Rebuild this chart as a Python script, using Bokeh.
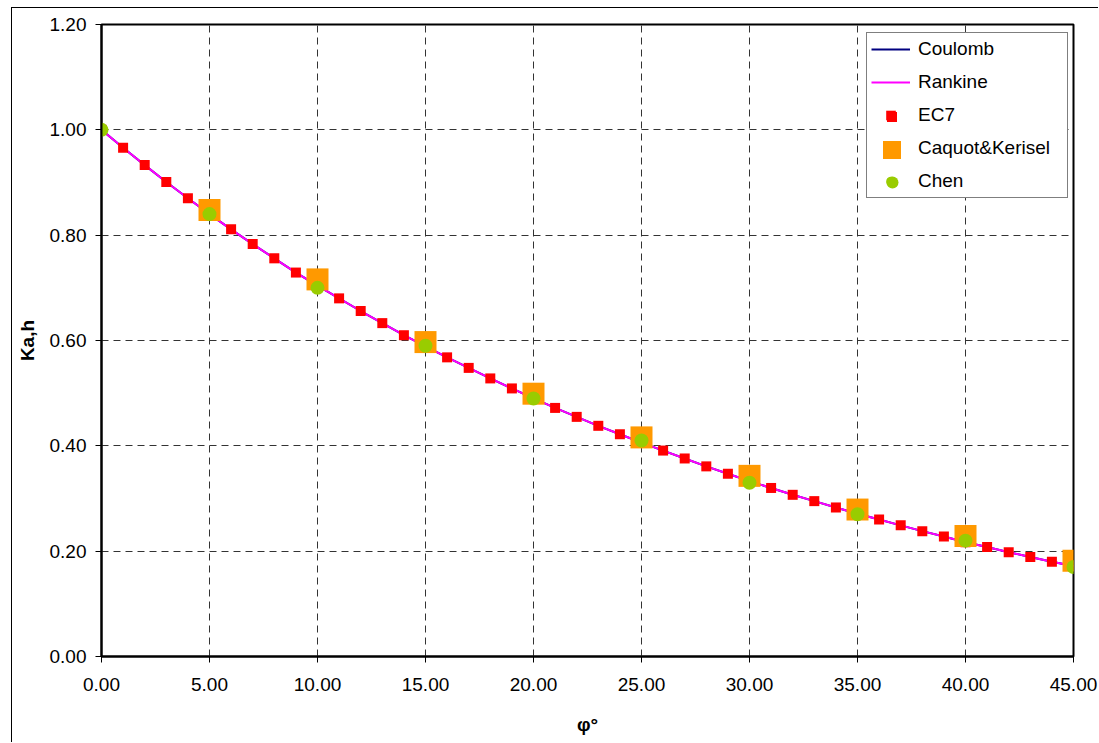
from bokeh.plotting import figure
from bokeh.models import (Range1d, NumeralTickFormatter, FixedTicker, Legend, LegendItem)
from bokeh.embed import file_html
from bokeh.resources import INLINE

# ---- data ----
phi = [0, 1, 2, 3, 4, 5, 6, 7, 8, 9, 10, 11, 12, 13, 14, 15, 16, 17, 18, 19, 20,
       21, 22, 23, 24, 25, 26, 27, 28, 29, 30, 31, 32, 33, 34, 35, 36, 37, 38, 39, 40,
       41, 42, 43, 44, 45]
rankine = [1.000, 0.966, 0.933, 0.901, 0.870, 0.840, 0.811, 0.783, 0.756, 0.729, 0.704,
           0.680, 0.656, 0.633, 0.610, 0.589, 0.568, 0.548, 0.528, 0.509, 0.490,
           0.472, 0.455, 0.438, 0.422, 0.406, 0.391, 0.376, 0.361, 0.347, 0.333,
           0.320, 0.307, 0.295, 0.283, 0.271, 0.260, 0.249, 0.238, 0.228, 0.217,
           0.208, 0.198, 0.189, 0.180, 0.172]
coulomb = list(rankine)
ec7 = list(rankine)
phi5 = [5, 10, 15, 20, 25, 30, 35, 40, 45]
caquot = [0.848, 0.716, 0.597, 0.499, 0.416, 0.343, 0.279, 0.229, 0.182]
phi_chen = [0, 5, 10, 15, 20, 25, 30, 35, 40, 45]
chen = [1.00, 0.84, 0.70, 0.59, 0.49, 0.41, 0.33, 0.27, 0.22, 0.17]

x_ticks = [0, 5, 10, 15, 20, 25, 30, 35, 40, 45]
y_ticks = [0.0, 0.2, 0.4, 0.6, 0.8, 1.0, 1.2]

FONT = "Liberation Sans"

# figure is offset by the outer frame (margin 11/7 + 1px border)
W, H = 1087, 735
p = figure(width=W, height=H, output_backend="svg", toolbar_location=None,
           x_range=Range1d(0, 45), y_range=Range1d(0, 1.2),
           min_border_left=89, min_border_right=26, min_border_top=16, min_border_bottom=87)
p.styles = {"margin-left": "11px", "margin-top": "7px",
            "border-left": "1px solid black", "border-top": "1px solid black"}
p.background_fill_color = "white"
p.border_fill_color = "white"
p.outline_line_color = "black"
p.outline_line_width = 2

for ax in (p.xaxis[0], p.yaxis[0]):
    ax.axis_line_color = "black"
    ax.axis_line_width = 2
    ax.major_tick_line_color = "black"
    ax.major_tick_line_width = 1
    ax.minor_tick_line_color = None
    ax.major_tick_in = 0
    ax.major_tick_out = 6
    ax.major_label_text_font = FONT
    ax.major_label_text_font_size = "19px"
    ax.major_label_text_color = "black"
    ax.axis_label_text_font = FONT
    ax.axis_label_text_font_size = "19px"
    ax.axis_label_text_font_style = "bold"
    ax.axis_label_text_color = "black"
    ax.formatter = NumeralTickFormatter(format="0.00")

p.xaxis[0].ticker = FixedTicker(ticks=x_ticks)
p.yaxis[0].ticker = FixedTicker(ticks=y_ticks)
p.xaxis[0].axis_label = "φ°"
p.yaxis[0].axis_label = "Ka,h"
p.xaxis[0].major_label_standoff = 15
p.xaxis[0].axis_label_standoff = 20
p.yaxis[0].major_label_standoff = 9
p.yaxis[0].axis_label_standoff = 9

for g in (p.xgrid[0], p.ygrid[0]):
    g.grid_line_color = "#333333"
    g.grid_line_dash = "7 5"
    g.grid_line_width = 1
p.xgrid[0].ticker = FixedTicker(ticks=x_ticks)
p.ygrid[0].ticker = FixedTicker(ticks=y_ticks)

r_coul = p.line(phi, coulomb, line_color="#000080", line_width=2)
r_rank = p.line(phi, rankine, line_color="#FF00FF", line_width=2)
r_ec7 = p.scatter(phi, ec7, marker="square", size=10, fill_color="#FF0000", line_color=None)
r_caq = p.scatter(phi5, caquot, marker="square", size=22, fill_color="#FF9900", line_color=None)
r_chen = p.scatter(phi_chen, chen, marker="circle", size=14, fill_color="#99CC00", line_color=None)

# main legend box (frame-relative screen coordinates)
LX, LY = 765, 458
PAD, GW, ROW, SP = 4, 39, 24, 9
legend = Legend(items=[
    LegendItem(label="Coulomb", renderers=[r_coul]),
    LegendItem(label="Rankine", renderers=[r_rank]),
    LegendItem(label="EC7", renderers=[r_ec7]),
    LegendItem(label="Caquot&Kerisel", renderers=[r_caq]),
    LegendItem(label="Chen", renderers=[r_chen]),
], location=(LX, LY))
legend.label_text_font = FONT
legend.label_text_font_size = "19px"
legend.label_text_color = "black"
legend.glyph_width = GW
legend.glyph_height = ROW
legend.label_height = ROW
legend.label_width = 145
legend.label_standoff = 8
legend.spacing = SP
legend.padding = PAD
legend.margin = 0
legend.border_line_color = "black"
legend.border_line_width = 1
legend.background_fill_color = "white"
legend.background_fill_alpha = 1
p.add_layout(legend, "center")

# overlay legends to draw the markers at their larger legend sizes
top_y = LY + 2 * PAD + 5 * ROW + 4 * SP
gcx = LX + PAD + GW / 2 + 2


def overlay(rend, row_index, marker_size):
    g = int(round(marker_size / 0.4))
    cy = top_y - PAD - row_index * (ROW + SP) - ROW / 2
    lg = Legend(items=[LegendItem(label=" ", renderers=[rend])],
                location=(gcx - g / 2, cy - g / 2))
    lg.glyph_width = g
    lg.glyph_height = g
    lg.label_height = g
    lg.label_width = 0
    lg.label_standoff = 0
    lg.label_text_alpha = 0
    lg.label_text_font_size = "1px"
    lg.padding = 0
    lg.margin = 0
    lg.border_line_color = None
    lg.background_fill_alpha = 0
    p.add_layout(lg, "center")


overlay(r_ec7, 2, 10)
overlay(r_caq, 3, 18)
overlay(r_chen, 4, 12)

open("out.html", "w").write(file_html(p, INLINE))
